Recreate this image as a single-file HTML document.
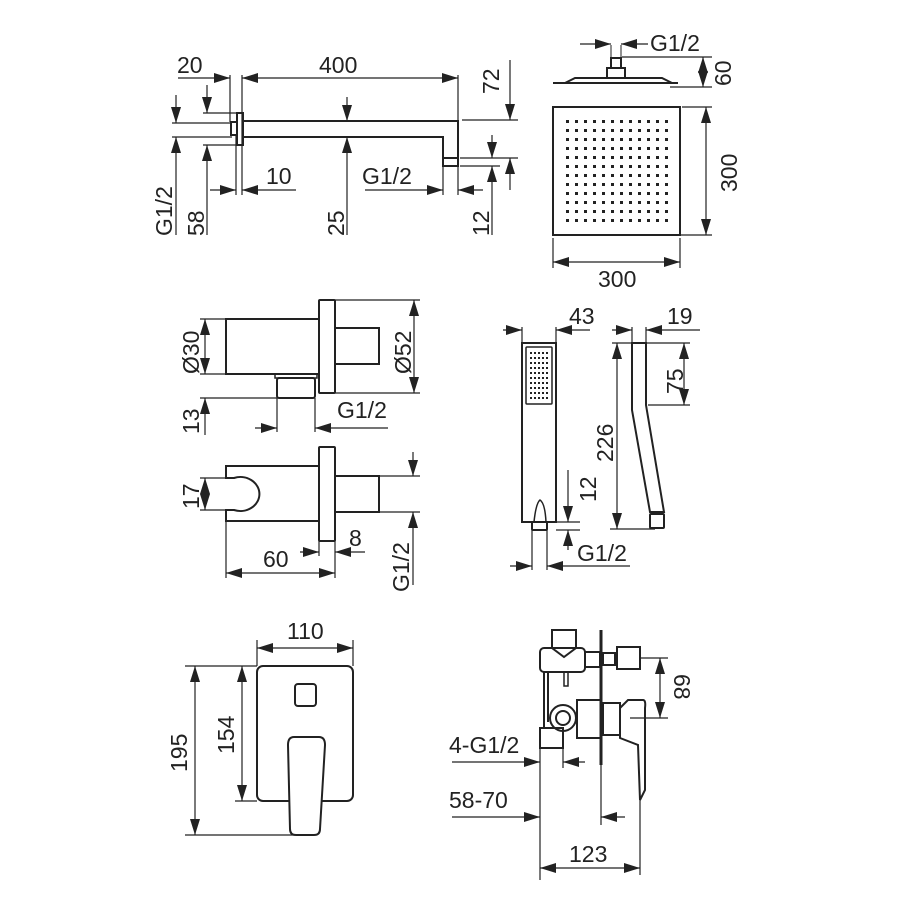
<!DOCTYPE html>
<html><head><meta charset="utf-8"><style>
html,body{margin:0;padding:0;background:#fff}
svg{display:block}
text{font-family:"Liberation Sans",sans-serif;font-size:23px;fill:#222}
</style></head><body>
<svg width="900" height="900" viewBox="0 0 900 900" xmlns="http://www.w3.org/2000/svg">
<defs>
<marker id="a" markerUnits="userSpaceOnUse" markerWidth="18" markerHeight="12" refX="16" refY="5" orient="auto-start-reverse"><path d="M0,0 L16,5 L0,10 z" fill="#222"/></marker>
</defs>
<g stroke="#222" stroke-width="1.2" fill="none">
<!-- ===== Shower arm ===== -->
<g stroke-width="2">
<rect x="237" y="113" width="6" height="32"/>
<rect x="231" y="122" width="6" height="13"/>
<path d="M243,121 H458 V158 M243,137 H443 V158"/>
<rect x="443" y="158" width="15" height="8"/>
</g>
<path d="M230,75 V122 M242,75 V195 M236,135 V195 M458,75 V121 M462,120 H518 M460,158 H518 M460,166 H500 M443,166 V195 M458,166 V195 M203,113 H236 M203,145 H236 M172,123 H232 M172,137 H232"/>
<line x1="178" y1="78" x2="230" y2="78" marker-end="url(#a)"/>
<line x1="242" y1="78" x2="458" y2="78" marker-start="url(#a)" marker-end="url(#a)"/>
<line x1="510" y1="60" x2="510" y2="120" marker-end="url(#a)"/>
<line x1="510" y1="190" x2="510" y2="158" marker-end="url(#a)"/>
<line x1="492" y1="135" x2="492" y2="158" marker-end="url(#a)"/>
<line x1="492" y1="235" x2="492" y2="166" marker-end="url(#a)"/>
<line x1="365" y1="190" x2="443" y2="190" marker-end="url(#a)"/>
<line x1="483" y1="190" x2="458" y2="190" marker-end="url(#a)"/>
<line x1="210" y1="190" x2="236" y2="190" marker-end="url(#a)"/>
<line x1="296" y1="190" x2="242" y2="190" marker-end="url(#a)"/>
<line x1="347" y1="97" x2="347" y2="121" marker-end="url(#a)"/>
<line x1="347" y1="235" x2="347" y2="137" marker-end="url(#a)"/>
<line x1="207" y1="85" x2="207" y2="113" marker-end="url(#a)"/>
<line x1="207" y1="235" x2="207" y2="145" marker-end="url(#a)"/>
<line x1="176" y1="95" x2="176" y2="123" marker-end="url(#a)"/>
<line x1="176" y1="235" x2="176" y2="137" marker-end="url(#a)"/>

<!-- ===== Shower head ===== -->
<g stroke-width="2">
<path d="M553,83 H678 M565,83 L575,78 H662 L672,83"/>
<rect x="607" y="68" width="18" height="10"/>
<rect x="611" y="58" width="10" height="10"/>
<path d="M611,45 V58 M621,45 V58" stroke-width="1"/>
<rect x="553" y="107" width="127" height="128"/>
</g>
<path d="M622,57 H712 M670,87 H712 M682,107 H712 M680,235 H712 M553,238 V268 M680,238 V268"/>
<line x1="580" y1="44" x2="611" y2="44" marker-end="url(#a)"/>
<line x1="648" y1="44" x2="621" y2="44" marker-end="url(#a)"/>
<line x1="703" y1="57" x2="703" y2="87" marker-start="url(#a)" marker-end="url(#a)"/>
<line x1="706" y1="107" x2="706" y2="235" marker-start="url(#a)" marker-end="url(#a)"/>
<line x1="553" y1="262" x2="680" y2="262" marker-start="url(#a)" marker-end="url(#a)"/>

<!-- ===== Wall outlet top ===== -->
<g stroke-width="2">
<rect x="319" y="300" width="16" height="93" rx="1"/>
<rect x="226" y="319" width="93" height="55"/>
<path d="M335,328 H379 V364 H335"/>
<rect x="277" y="378" width="38" height="20" rx="2"/>
<path d="M275,374 H317 V378 H275z" stroke-width="1.5"/>
</g>
<path d="M200,319 H226 M200,374 H277 M200,398 H277 M277,398 V432 M315,398 V432 M335,300 H420 M335,393 H420"/>
<line x1="205" y1="319" x2="205" y2="374" marker-start="url(#a)" marker-end="url(#a)"/>
<line x1="205" y1="435" x2="205" y2="398" marker-end="url(#a)"/>
<line x1="255" y1="428" x2="277" y2="428" marker-end="url(#a)"/>
<line x1="388" y1="428" x2="315" y2="428" marker-end="url(#a)"/>
<line x1="414" y1="300" x2="414" y2="393" marker-start="url(#a)" marker-end="url(#a)"/>

<!-- ===== Wall outlet bottom ===== -->
<g stroke-width="2">
<rect x="319" y="447" width="16" height="94" rx="1"/>
<path d="M319,466 H226 V478 H234 A19,17 0 1 1 234,510 H226 V521 H319"/>
<path d="M335,476 H379 V512 H335"/>
</g>
<path d="M200,478 H232 M200,510 H232 M379,476 H420 M379,512 H420 M319,541 V556 M335,541 V556 M226,521 V578 M335,556 V578"/>
<line x1="205" y1="478" x2="205" y2="510" marker-start="url(#a)" marker-end="url(#a)"/>
<line x1="413" y1="452" x2="413" y2="476" marker-end="url(#a)"/>
<line x1="413" y1="585" x2="413" y2="512" marker-end="url(#a)"/>
<line x1="300" y1="552" x2="319" y2="552" marker-end="url(#a)"/>
<line x1="365" y1="552" x2="335" y2="552" marker-end="url(#a)"/>
<line x1="226" y1="573" x2="335" y2="573" marker-start="url(#a)" marker-end="url(#a)"/>

<!-- ===== Hand shower ===== -->
<g stroke-width="2">
<rect x="522" y="343" width="34" height="179"/>
<rect x="526" y="347" width="26" height="57" rx="1" stroke-width="1.5"/>
<rect x="532" y="522" width="15" height="8" rx="1"/>
<path d="M534,522 Q536,503 540,500 Q545,503 546,522" stroke-width="1.5"/>
<path d="M632,343 H646 V405 L664,512 H650 L632,410 Z"/>
<rect x="650" y="514" width="14" height="14" rx="1"/>
</g>
<path d="M522,327 V343 M556,327 V343 M556,522 H580 M556,530 H580 M532,530 V570 M547,530 V570 M632,327 V343 M646,327 V343 M612,343 H690 M610,529 H655 M648,405 H690"/>
<line x1="503" y1="330" x2="522" y2="330" marker-end="url(#a)"/>
<line x1="590" y1="330" x2="556" y2="330" marker-end="url(#a)"/>
<line x1="568" y1="470" x2="568" y2="522" marker-end="url(#a)"/>
<line x1="568" y1="550" x2="568" y2="530" marker-end="url(#a)"/>
<line x1="510" y1="566" x2="532" y2="566" marker-end="url(#a)"/>
<line x1="630" y1="566" x2="547" y2="566" marker-end="url(#a)"/>
<line x1="612" y1="330" x2="632" y2="330" marker-end="url(#a)"/>
<line x1="700" y1="330" x2="646" y2="330" marker-end="url(#a)"/>
<line x1="617" y1="343" x2="617" y2="529" marker-start="url(#a)" marker-end="url(#a)"/>
<line x1="684" y1="343" x2="684" y2="405" marker-start="url(#a)" marker-end="url(#a)"/>

<!-- ===== Mixer plate ===== -->
<g stroke-width="2">
<rect x="257" y="666" width="96" height="135" rx="6"/>
<rect x="295" y="684" width="21" height="22" rx="3"/>
<path d="M294,737 H319 Q325,737 325,745 L320,829 Q320,835 314,835 H296 Q290,835 290,829 L288,745 Q288,737 294,737 Z" fill="#fff"/>
</g>
<path d="M257,640 V666 M353,640 V666 M185,666 H257 M235,801 H257 M185,835 H295"/>
<line x1="257" y1="648" x2="353" y2="648" marker-start="url(#a)" marker-end="url(#a)"/>
<line x1="195" y1="666" x2="195" y2="835" marker-start="url(#a)" marker-end="url(#a)"/>
<line x1="242" y1="666" x2="242" y2="801" marker-start="url(#a)" marker-end="url(#a)"/>

<!-- ===== Diverter side ===== -->
<g stroke-width="2">
<line x1="601" y1="630" x2="601" y2="765" stroke-width="3"/>
<path d="M552,630 H576 V648 L564,657 L552,648 Z"/>
<rect x="540" y="648" width="45" height="24" rx="4"/>
<rect x="585" y="652" width="15" height="15"/>
<rect x="603" y="653" width="12" height="12"/>
<rect x="617" y="647" width="23" height="22"/>
<path d="M544,672 V728 M548,672 V722"/>
<rect x="564" y="672" width="4" height="14" stroke-width="1.5"/>
<circle cx="563" cy="718" r="13"/>
<circle cx="563" cy="718" r="7"/>
<rect x="540" y="728" width="23" height="20"/>
<rect x="577" y="700" width="24" height="38"/>
<rect x="603" y="703" width="17" height="32"/>
<path d="M620,708 L628,700 H643 Q646,700 645,708 L645,790 L640,800 L638,745 L620,738 Z"/>
</g>
<path d="M640,658 H668 M630,718 H668 M540,748 V880 M563,748 V768 M601,765 V825 M640,800 V875"/>
<line x1="660" y1="658" x2="660" y2="718" marker-start="url(#a)" marker-end="url(#a)"/>
<line x1="452" y1="762" x2="540" y2="762" marker-end="url(#a)"/>
<line x1="585" y1="762" x2="563" y2="762" marker-end="url(#a)"/>
<line x1="452" y1="817" x2="540" y2="817" marker-end="url(#a)"/>
<line x1="625" y1="817" x2="601" y2="817" marker-end="url(#a)"/>
<line x1="540" y1="868" x2="640" y2="868" marker-start="url(#a)" marker-end="url(#a)"/>
</g>

<g fill="#222">
<pattern id="d1" x="566" y="120" width="9" height="9" patternUnits="userSpaceOnUse"><rect width="3" height="3"/></pattern>
<rect x="566" y="120" width="105" height="105" fill="url(#d1)"/>
<pattern id="d2" x="530" y="352" width="4" height="5" patternUnits="userSpaceOnUse"><rect width="2" height="2"/></pattern>
<rect x="530" y="352" width="20" height="48" fill="url(#d2)"/>
</g>

<text x="177" y="73">20</text>
<text x="319" y="73">400</text>
<text x="266" y="184">10</text>
<text x="362" y="184">G1/2</text>
<text transform="translate(499,94) rotate(-90)">72</text>
<text transform="translate(489,236) rotate(-90)">12</text>
<text transform="translate(344,236) rotate(-90)">25</text>
<text transform="translate(204,236) rotate(-90)">58</text>
<text transform="translate(172,236) rotate(-90)">G1/2</text>
<text x="650" y="51">G1/2</text>
<text transform="translate(731,86) rotate(-90)">60</text>
<text transform="translate(737,192) rotate(-90)">300</text>
<text x="598" y="287">300</text>

<text transform="translate(199,374) rotate(-90)">Ø30</text>
<text transform="translate(199,434) rotate(-90)">13</text>
<text x="337" y="418">G1/2</text>
<text transform="translate(411,374) rotate(-90)">Ø52</text>
<text transform="translate(199,509) rotate(-90)">17</text>
<text x="349" y="546">8</text>
<text x="263" y="567">60</text>
<text transform="translate(409,592) rotate(-90)">G1/2</text>

<text x="569" y="324">43</text>
<text transform="translate(596,502) rotate(-90)">12</text>
<text x="577" y="561">G1/2</text>
<text x="667" y="324">19</text>
<text transform="translate(613,462) rotate(-90)">226</text>
<text transform="translate(683,394) rotate(-90)">75</text>

<text x="287" y="639">110</text>
<text transform="translate(187,772) rotate(-90)">195</text>
<text transform="translate(234,754) rotate(-90)">154</text>

<text transform="translate(674,674) rotate(90)">68</text>
<text x="449" y="753">4-G1/2</text>
<text x="449" y="808">58-70</text>
<text x="569" y="862">123</text>
</svg>
</body></html>
